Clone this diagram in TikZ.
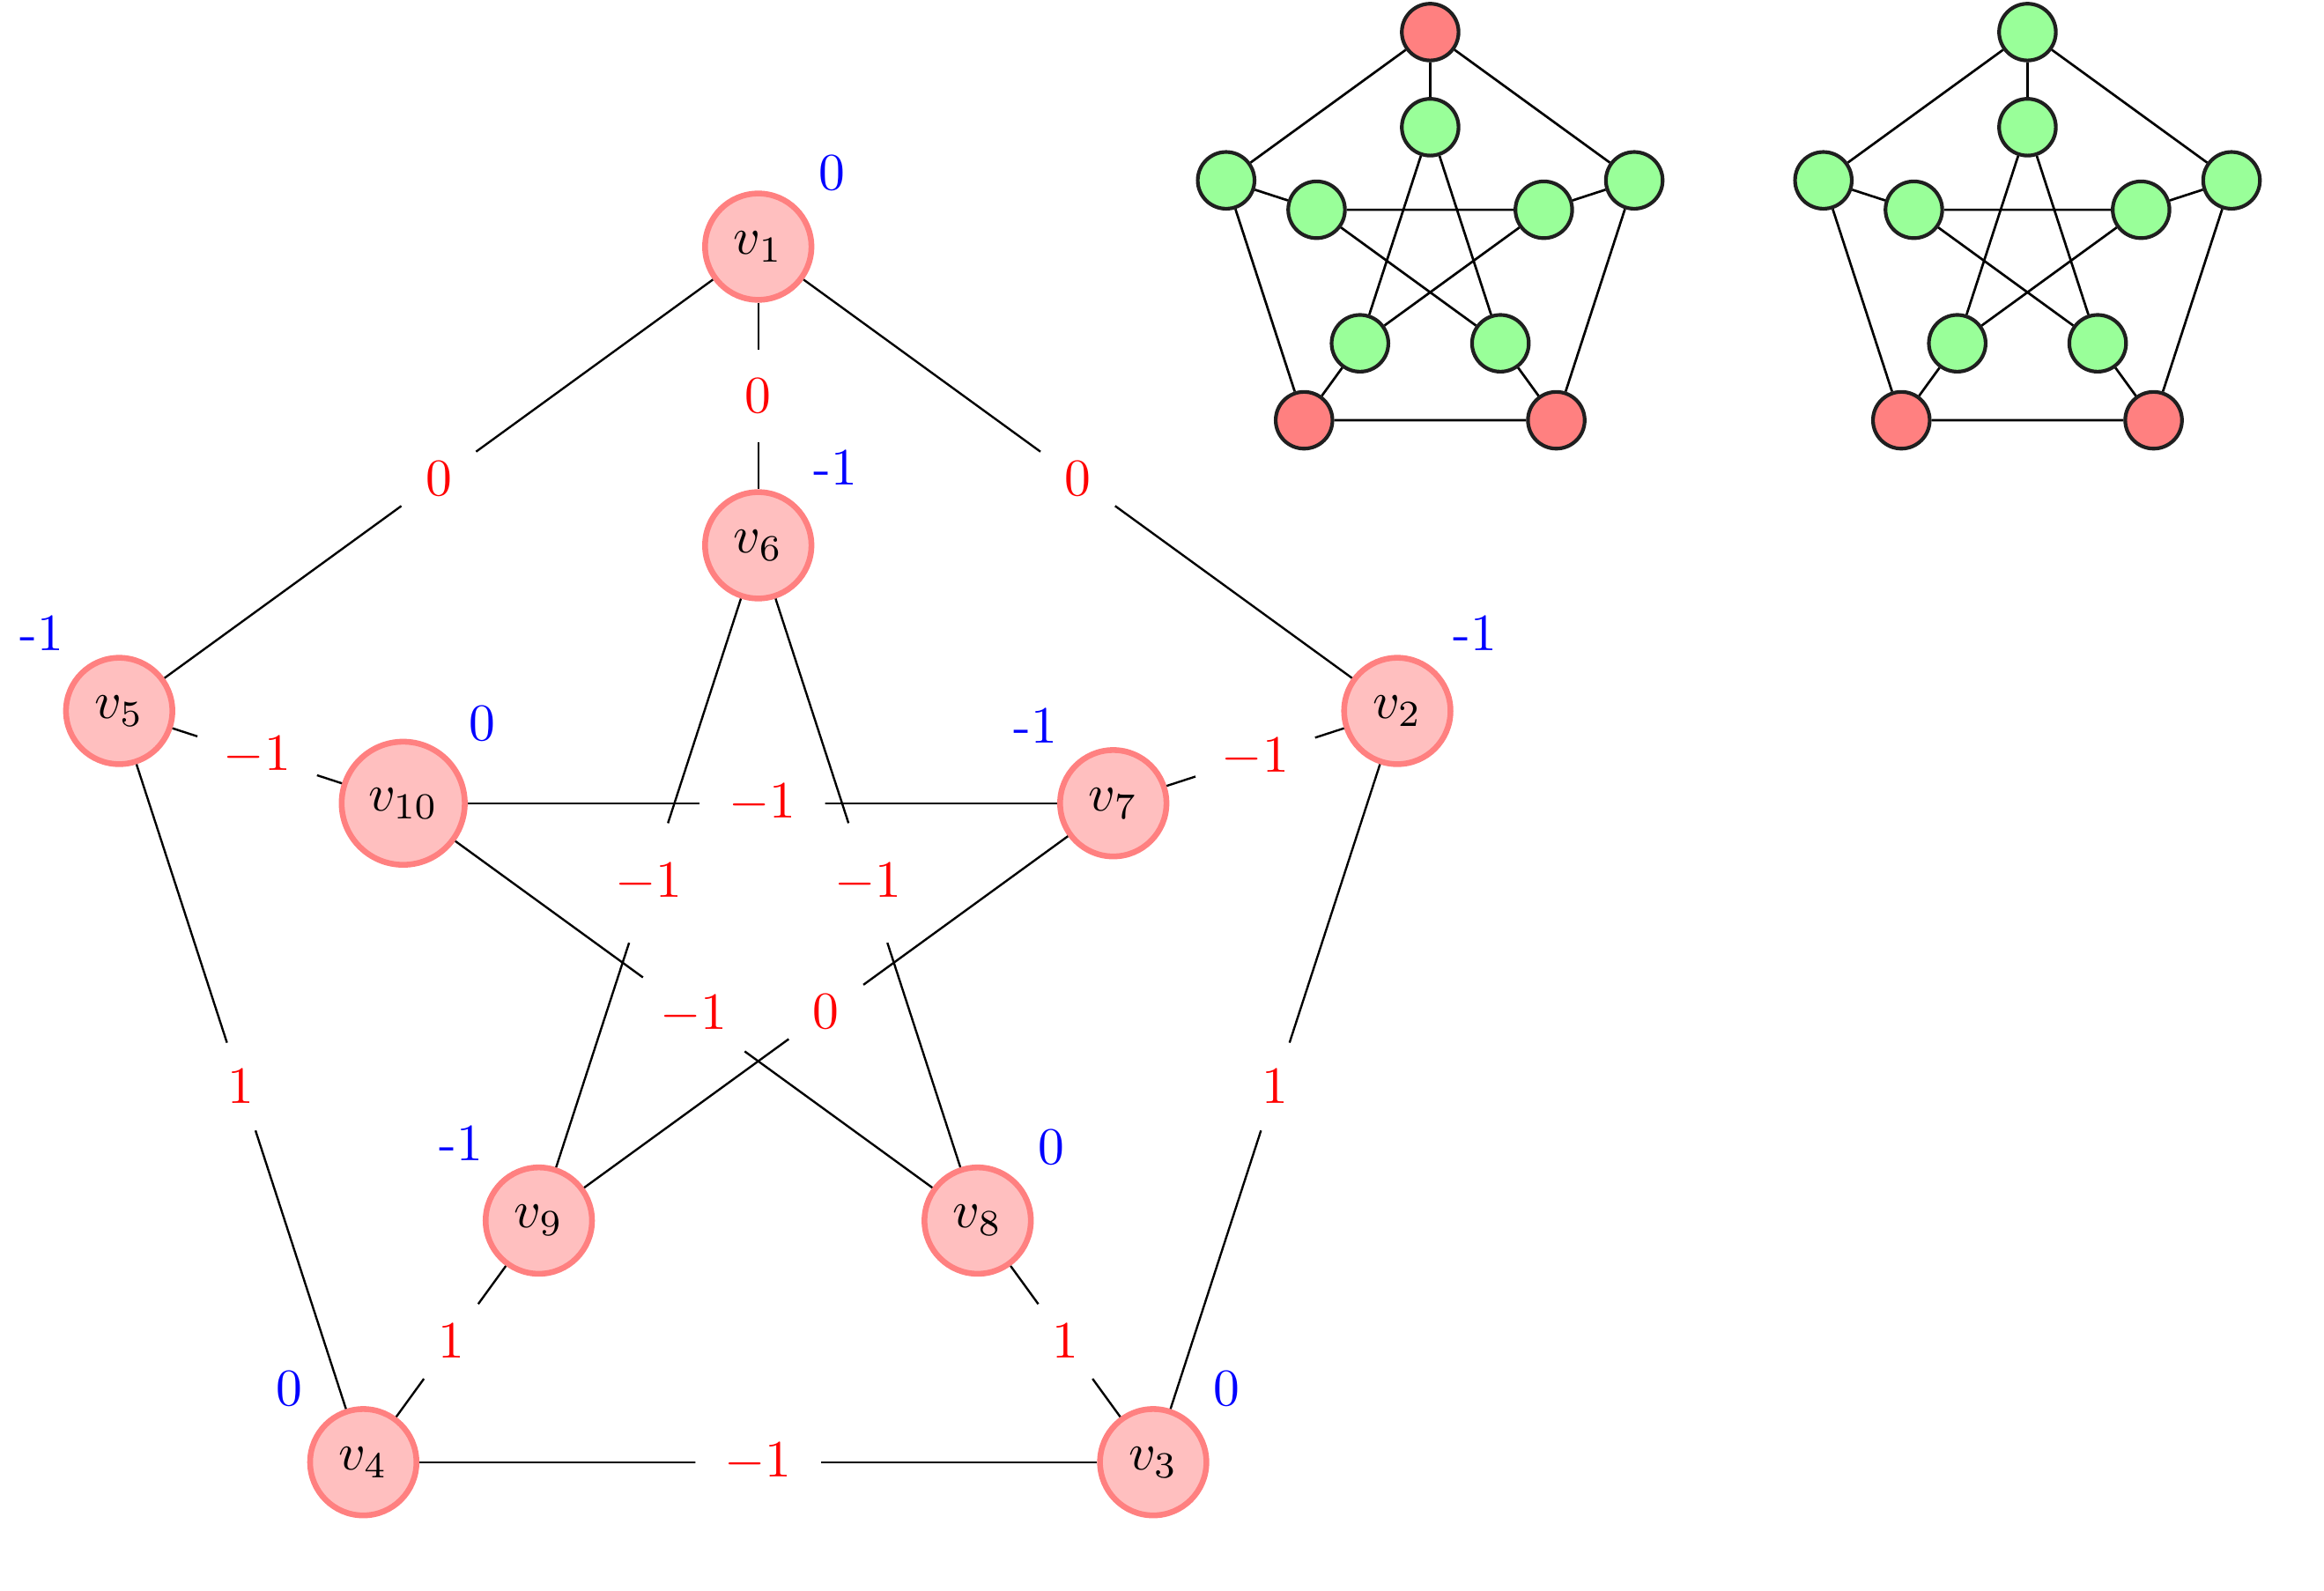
\documentclass[tikz,border=0pt]{standalone}
\begin{document}
\begin{tikzpicture}[
  vtx/.style={circle, fill=red!25, draw=red!50, line width=1.1pt, inner sep=0.333em},
  wlab/.style={circle, fill=white, text=red, inner sep=0.333em},
  vlab/.style={circle, text=blue, inner sep=0.333em},
  sv/.style={circle, draw=black!88, line width=0.7pt, inner sep=0pt, minimum size=0.38cm},
  sg/.style={sv, fill=green!40},
  sr/.style={sv, fill=red!50},
  sedge/.style={black, line width=0.45pt},
]
\useasboundingbox (-5.078,-4.498) rectangle (10.486,6.152);

% main graph
\node[vtx, label={[vlab]45:0}]    (v1)  at (90:4.5)   {$v_1$};
\node[vtx, label={[vlab]45:-1}]   (v2)  at (18:4.5)   {$v_2$};
\node[vtx, label={[vlab]45:0}]    (v3)  at (-54:4.5)  {$v_3$};
\node[vtx, label={[vlab]135:0}]   (v4)  at (-126:4.5) {$v_4$};
\node[vtx, label={[vlab]135:-1}]  (v5)  at (162:4.5)  {$v_5$};
\node[vtx, label={[vlab]45:-1}]   (v6)  at (90:2.5)   {$v_6$};
\node[vtx, label={[vlab]135:-1}]  (v7)  at (18:2.5)   {$v_7$};
\node[vtx, label={[vlab]45:0}]    (v8)  at (-54:2.5)  {$v_8$};
\node[vtx, label={[vlab]135:-1}]  (v9)  at (-126:2.5) {$v_9$};
\node[vtx, label={[vlab]45:0}]    (v10) at (162:2.5)  {$v_{10}$};

\draw (v1) -- node[wlab] {$0$} (v2);
\draw (v1) -- node[wlab] {$0$} (v5);
\draw (v1) -- node[wlab] {$0$} (v6);
\draw (v2) -- node[wlab] {$1$} (v3);
\draw (v2) -- node[wlab] {$-1$} (v7);
\draw (v3) -- node[wlab] {$-1$} (v4);
\draw (v3) -- node[wlab] {$1$} (v8);
\draw (v4) -- node[wlab] {$1$} (v5);
\draw (v4) -- node[wlab] {$1$} (v9);
\draw (v5) -- node[wlab] {$-1$} (v10);
\draw (v6) -- node[wlab] {$-1$} (v8);
\draw (v6) -- node[wlab] {$-1$} (v9);
\draw (v7) -- node[wlab] {$-1$} (v10);
\draw (v7) -- node[wlab] {$0$} (v9);
\draw (v8) -- node[wlab] {$-1$} (v10);

% small graph A
\begin{scope}[shift={(4.5,4.5)}]
\node[sr] (a1) at (90:1.437) {};
\node[sg] (a2) at (18:1.437) {};
\node[sr] (a3) at (-54:1.437) {};
\node[sr] (a4) at (-126:1.437) {};
\node[sg] (a5) at (162:1.437) {};
\node[sg] (a6) at (90:0.8) {};
\node[sg] (a7) at (18:0.8) {};
\node[sg] (a8) at (-54:0.8) {};
\node[sg] (a9) at (-126:0.8) {};
\node[sg] (a10) at (162:0.8) {};
\draw[sedge] (a1) -- (a2) (a2) -- (a3) (a3) -- (a4) (a4) -- (a5) (a5) -- (a1)
  (a1) -- (a6) (a2) -- (a7) (a3) -- (a8) (a4) -- (a9) (a5) -- (a10)
  (a6) -- (a8) (a6) -- (a9) (a7) -- (a9) (a7) -- (a10) (a8) -- (a10);
\end{scope}

% small graph B
\begin{scope}[shift={(8.5,4.5)}]
\node[sg] (b1) at (90:1.437) {};
\node[sg] (b2) at (18:1.437) {};
\node[sr] (b3) at (-54:1.437) {};
\node[sr] (b4) at (-126:1.437) {};
\node[sg] (b5) at (162:1.437) {};
\node[sg] (b6) at (90:0.8) {};
\node[sg] (b7) at (18:0.8) {};
\node[sg] (b8) at (-54:0.8) {};
\node[sg] (b9) at (-126:0.8) {};
\node[sg] (b10) at (162:0.8) {};
\draw[sedge] (b1) -- (b2) (b2) -- (b3) (b3) -- (b4) (b4) -- (b5) (b5) -- (b1)
  (b1) -- (b6) (b2) -- (b7) (b3) -- (b8) (b4) -- (b9) (b5) -- (b10)
  (b6) -- (b8) (b6) -- (b9) (b7) -- (b9) (b7) -- (b10) (b8) -- (b10);
\end{scope}
\end{tikzpicture}
\end{document}
